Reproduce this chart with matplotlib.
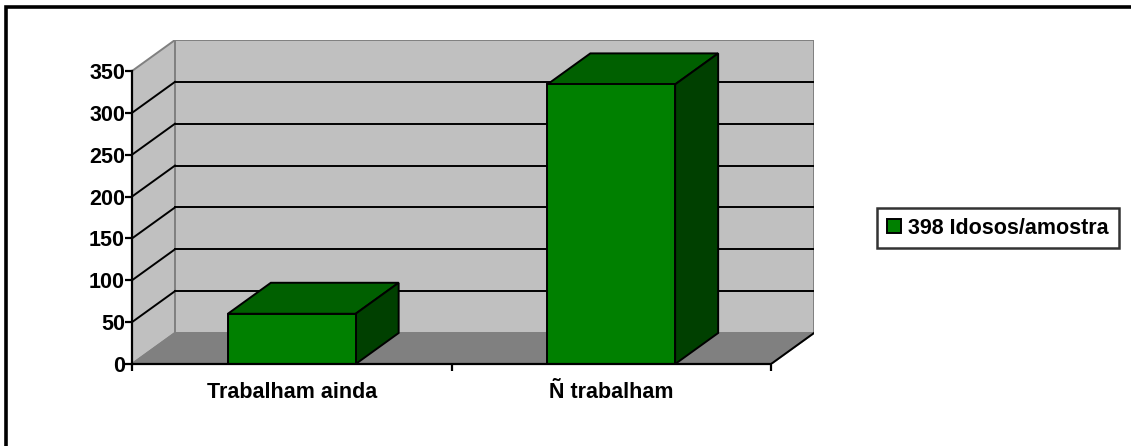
import matplotlib
matplotlib.use('Agg')
import matplotlib.pyplot as plt
from matplotlib.patches import Polygon, Rectangle

categories = ['Trabalham ainda', 'Ñ trabalham']
valores = [60, 334]
serie = '398 Idosos/amostra'
yticks = [0, 50, 100, 150, 200, 250, 300, 350]

plt.rcParams['font.family'] = ['Liberation Sans', 'DejaVu Sans']
plt.rcParams['font.weight'] = 'bold'
fs = 15.5

W, H = 1131, 446
fig = plt.figure(figsize=(W / 100, H / 100), dpi=100)

# front plane in pixels: x 132..771 for 2 categories, y 364..71 for 0..350
x_left, x_right = 132, 771
y_zero, y_top = 364, 71
depth_px = (43, 31)
px_per_x = (x_right - x_left) / len(categories)
px_per_y = (y_zero - y_top) / yticks[-1]
DX = depth_px[0] / px_per_x
DY = depth_px[1] / px_per_y
ymax = yticks[-1]
nx = len(categories)

ax = fig.add_axes([x_left / W, (H - y_zero) / H,
                   (x_right + depth_px[0] - x_left) / W,
                   (y_zero - (y_top - depth_px[1])) / H])
ax.set_xlim(0, nx + DX)
ax.set_ylim(0, ymax + DY)
ax.patch.set_visible(False)

wall = '#c0c0c0'
floor = '#808080'
edge = '#808080'

# side wall, back wall, floor
ax.add_patch(Polygon([(0, 0), (DX, DY), (DX, ymax + DY), (0, ymax)],
                     closed=True, facecolor=wall, edgecolor=edge, lw=1.4, zorder=1))
ax.add_patch(Rectangle((DX, DY), nx, ymax, facecolor=wall, edgecolor=edge, lw=1.4, zorder=1))
ax.add_patch(Polygon([(0, 0), (nx, 0), (nx + DX, DY), (DX, DY)],
                     closed=True, facecolor=floor, edgecolor=edge, lw=1.4, zorder=1))
ax.plot([nx, nx + DX], [0, DY], color='black', lw=1.4, zorder=2)

# gridlines on the back wall and the side wall
for v in yticks[1:-1]:
    ax.plot([DX, nx + DX], [v + DY, v + DY], color='black', lw=1.4, zorder=2)
    ax.plot([0, DX], [v, v + DY], color='black', lw=1.4, zorder=2)

# bars: front face, top and side
centers = [i + 0.5 for i in range(nx)]
bw = 0.4
ax.bar(centers, valores, width=bw, color='#008000', edgecolor='black', lw=1.4,
       label=serie, zorder=4)
for c, v in zip(centers, valores):
    x0, x1 = c - bw / 2, c + bw / 2
    ax.add_patch(Polygon([(x0, v), (x1, v), (x1 + DX, v + DY), (x0 + DX, v + DY)],
                         closed=True, facecolor='#006000', edgecolor='black', lw=1.4, zorder=3))
    ax.add_patch(Polygon([(x1, 0), (x1 + DX, DY), (x1 + DX, v + DY), (x1, v)],
                         closed=True, facecolor='#004000', edgecolor='black', lw=1.4, zorder=3))

# axes
for s in ['top', 'right']:
    ax.spines[s].set_visible(False)
ax.spines['left'].set_bounds(0, ymax)
ax.spines['bottom'].set_bounds(0, nx)
for s in ['left', 'bottom']:
    ax.spines[s].set_linewidth(1.6)
    ax.spines[s].set_zorder(5)

ax.set_yticks(yticks)
ax.set_yticklabels([str(t) for t in yticks])
ax.tick_params(axis='y', direction='out', length=5, width=1.6, pad=0, labelsize=fs)
ax.set_xticks(range(nx + 1))
ax.set_xticklabels([''] * (nx + 1))
ax.set_xticks(centers, minor=True)
ax.set_xticklabels(categories, minor=True)
ax.tick_params(axis='x', which='major', direction='out', length=5, width=1.6)
ax.tick_params(axis='x', which='minor', length=0, pad=13, labelsize=fs)

leg = fig.legend(loc='center left', bbox_to_anchor=(877 / W, (H - 228) / H),
                 fontsize=fs, frameon=True, fancybox=False, edgecolor='black',
                 handlelength=0.65, handleheight=0.65, handletextpad=0.35,
                 borderpad=0.45, borderaxespad=0)
leg.get_frame().set_linewidth(1.8)
for p in leg.get_patches():
    p.set_edgecolor('black')

# chart border (only top and left fall inside the image)
fig.patches.append(Rectangle((6 / W, -0.2), 1.2, 1.2 - 7 / H,
                             transform=fig.transFigure, fill=False,
                             edgecolor='black', lw=2.6))

fig.savefig('out.png', dpi=100)
